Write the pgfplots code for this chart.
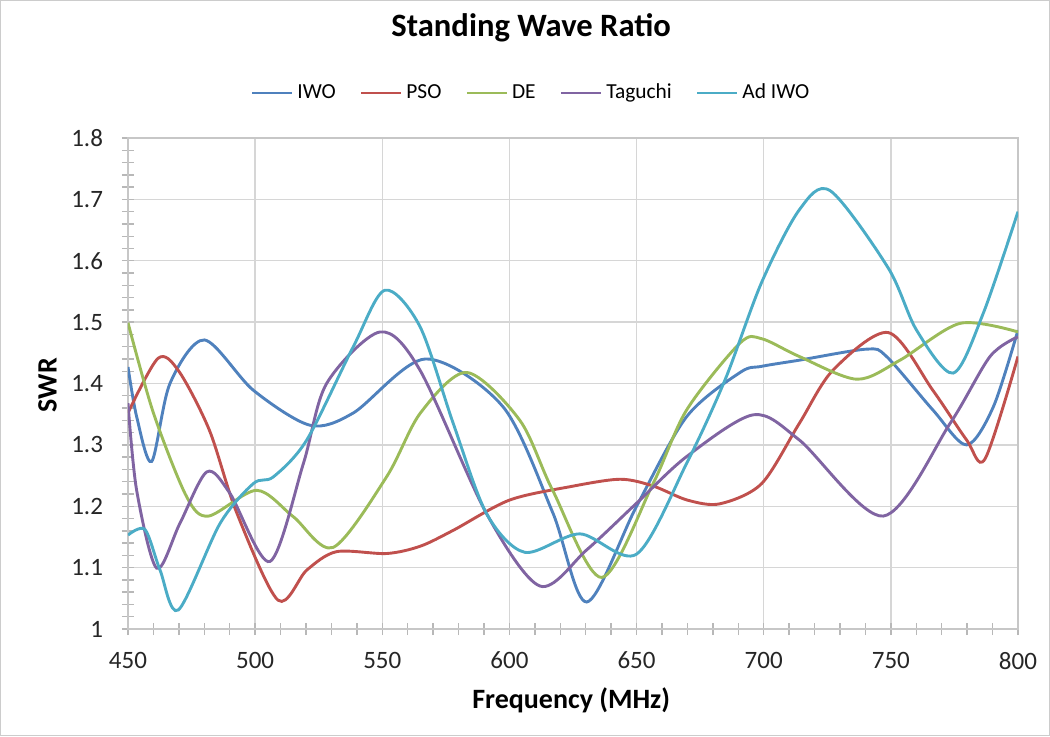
\documentclass[border=0pt]{standalone}
\usepackage{fontspec}
\setmainfont{Carlito}
\usepackage{pgfplots}
\pgfplotsset{compat=1.18}
\definecolor{cIWO}{HTML}{4F81BD}
\definecolor{cPSO}{HTML}{C0504D}
\definecolor{cDE}{HTML}{9BBB59}
\definecolor{cTAG}{HTML}{8064A2}
\definecolor{cAD}{HTML}{4BACC6}
\begin{document}
\begin{tikzpicture}
\begin{axis}[
    anchor=south west, scale only axis,
    width=445pt, height=245.5pt,
    xmin=450, xmax=800, ymin=1, ymax=1.8,
    xtick={450,500,550,600,650,700,750,800},
    ytick={1,1.1,1.2,1.3,1.4,1.5,1.6,1.7,1.8},
    minor x tick num=4, minor y tick num=4,
    tick pos=left,
    grid=major, major grid style={draw=black!16, line width=0.7pt},
    axis line style={draw=black!22, line width=0.8pt},
    tick style={draw=black!28, line width=0.7pt},
    tick align=center, major tick length=6pt, minor tick length=6pt,
    /pgf/number format/assume math mode=true,
    ticklabel style={font=\fontsize{12.5}{14}\selectfont, text=black!85},
    xticklabel style={yshift=-5pt},
    yticklabel style={xshift=-6pt, /pgf/number format/.cd, fixed, precision=1},
    title={Standing Wave Ratio},
    title style={at={(0.453,1.2)}, anchor=center, font=\fontsize{16.3}{18}\selectfont\bfseries},
    xlabel={Frequency (MHz)}, ylabel={SWR},
    xlabel style={at={(0.498,-0.145)}, anchor=center, font=\fontsize{14}{16}\selectfont\bfseries},
    ylabel style={at={(-0.0904,0.497)}, anchor=center, font=\fontsize{14}{16}\selectfont\bfseries},
    legend columns=5,
    legend style={at={(0.454,1.0916)}, anchor=center, draw=none, fill=none,
        font=\fontsize{10.7}{12}\selectfont,
        /tikz/every even column/.append style={column sep=10pt}},
    legend image code/.code={\draw[#1, line width=1.3pt] (0pt,0pt) -- (20pt,0pt);},
    every axis plot/.append style={line width=1.45pt, smooth, no marks},
]
\addplot[cIWO] coordinates {
(450,1.427) (453.4,1.346) (459.3,1.273) (466.5,1.40) (480,1.471) (499.3,1.389)
(521.6,1.332) (538.6,1.352) (567,1.440) (597.5,1.362) (617,1.19) (630.4,1.044)
(650,1.20) (669.7,1.346) (690.7,1.418) (699.2,1.428) (714,1.438) (740.5,1.456)
(748.3,1.444) (766.5,1.357) (779.8,1.300) (790.3,1.362) (800,1.487)};
\addplot[cPSO] coordinates {
(450,1.352) (461.8,1.441) (470,1.42) (482,1.324) (492.7,1.19) (509,1.047)
(520.3,1.096) (532,1.126) (551.7,1.123) (565,1.135) (578,1.161) (600,1.21)
(624,1.232) (643.5,1.244) (656.5,1.233) (670,1.21) (682.8,1.204) (699.2,1.237)
(714,1.335) (727.3,1.422) (749,1.483) (766.5,1.389) (779.8,1.308) (787,1.277) (800,1.444)};
\addplot[cDE] coordinates {
(450,1.499) (460,1.352) (473,1.216) (481.6,1.184) (500.6,1.226) (515,1.183)
(530.7,1.133) (551.7,1.248) (565,1.352) (583.2,1.418) (604.1,1.34) (617,1.226)
(636.3,1.084) (656.5,1.237) (669.7,1.357) (690.7,1.466) (699.2,1.473) (714,1.444)
(736.6,1.407) (753.6,1.438) (777.2,1.498) (800,1.484)};
\addplot[cTAG] coordinates {
(450,1.368) (453.4,1.226) (461.3,1.099) (470.4,1.172) (481,1.256) (490.1,1.221)
(505.8,1.11) (519,1.27) (528.1,1.40) (549.1,1.484) (564.8,1.422) (591,1.188)
(612,1.07) (630.4,1.129) (650,1.205) (669.7,1.281) (695.9,1.349) (714,1.308)
(747,1.184) (773.3,1.335) (789,1.444) (800,1.476)};
\addplot[cAD] coordinates {
(450,1.153) (456.7,1.162) (462.6,1.096) (469.8,1.031) (486.2,1.172) (499.3,1.237)
(507.2,1.248) (520.3,1.308) (538.6,1.46) (551,1.552) (564.8,1.493) (577.9,1.335)
(591,1.188) (606,1.125) (627.7,1.155) (650,1.122) (669.7,1.27) (684.8,1.406)
(699.2,1.565) (714,1.683) (726.2,1.714) (749,1.588) (760.1,1.487)
(774.5,1.417) (786.3,1.514) (800,1.68)};
\legend{IWO, PSO, DE, Taguchi, Ad IWO}
\end{axis}
\draw[black!20, line width=0.6pt] (-63.7pt,-53.2pt) rectangle (460.7pt,314.2pt);
\end{tikzpicture}
\end{document}
